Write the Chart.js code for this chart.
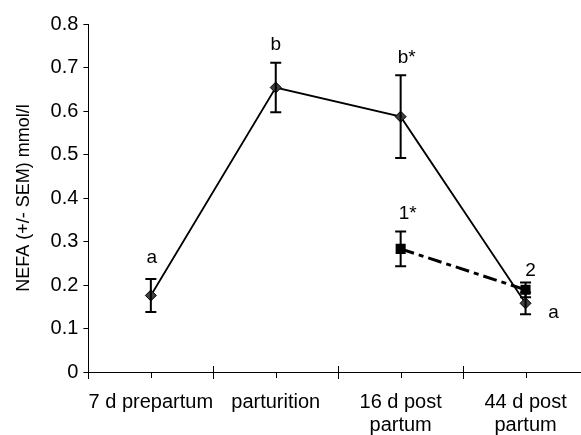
<!DOCTYPE html>
<html>
<head>
<meta charset="utf-8">
<script src="https://cdn.jsdelivr.net/npm/chart.js@4/dist/chart.umd.min.js"></script>
<style>
  html, body { margin: 0; padding: 0; background: #fff; overflow: hidden; }
  #wrap { width: 581px; height: 435px; overflow: hidden; }
</style>
</head>
<body>
<div id="wrap"><canvas id="myChart" width="596" height="449"></canvas></div>
<script>
// categories (sampling days)
const categories = [["7 d prepartum"], ["parturition"], ["16 d post", "partum"], ["44 d post", "partum"]];
// NEFA means and SEM, series 1 (diamonds, solid line)
const nefa1 = [0.176, 0.654, 0.587, 0.158];
const sem1 = [0.038, 0.057, 0.095, 0.025];
// series 2 (squares, dashed line)
const nefa2 = [null, null, 0.283, 0.189];
const sem2 = [null, null, 0.040, 0.017];
// significance letters
const noteText = ["a", "b", "b*", "1*", "2", "a"];
const noteCat = [0, 1, 2, 2, 3, 3];
const noteVal = [0.262, 0.752, 0.722, 0.364, 0.232, 0.136];
const noteDx = [1, 0, 6, 7, 5, 28];

const FONT = "'Liberation Sans', Arial, sans-serif";

// draws SEM whiskers for each dataset
const errorBars = {
  id: "errorBars",
  afterDatasetsDraw(chart) {
    const ctx = chart.ctx;
    const y = chart.scales.y;
    chart.data.datasets.forEach((ds, i) => {
      const meta = chart.getDatasetMeta(i);
      meta.data.forEach((pt, j) => {
        const v = ds.data[j];
        const e = ds.sem[j];
        if (v == null || e == null) return;
        const top = y.getPixelForValue(v + e);
        const bot = y.getPixelForValue(v - e);
        ctx.save();
        ctx.strokeStyle = "#000";
        ctx.lineWidth = 2;
        ctx.beginPath();
        ctx.moveTo(pt.x, top); ctx.lineTo(pt.x, bot);
        ctx.moveTo(pt.x - 5.5, top); ctx.lineTo(pt.x + 5.5, top);
        ctx.moveTo(pt.x - 5.5, bot); ctx.lineTo(pt.x + 5.5, bot);
        ctx.stroke();
        ctx.restore();
      });
    });
  },
  afterDraw(chart) {
    const ctx = chart.ctx;
    const x = chart.scales.x;
    const y = chart.scales.y;
    ctx.save();
    ctx.strokeStyle = "#000";
    ctx.lineWidth = 1;
    // small ticks under each category centre
    categories.forEach((c, i) => {
      const px = Math.round(x.getPixelForValue(i)) + 0.5;
      ctx.beginPath();
      ctx.moveTo(px, y.bottom); ctx.lineTo(px, y.bottom + 6);
      ctx.stroke();
    });
    // the boundary ticks cross the axis
    for (let i = 0; i <= categories.length; i++) {
      const px = Math.round(x.left + (x.right - x.left) * i / categories.length) + 0.5;
      ctx.beginPath();
      ctx.moveTo(px, y.bottom - 6); ctx.lineTo(px, y.bottom);
      ctx.stroke();
    }
    // letters
    ctx.fillStyle = "#000";
    ctx.font = "19px " + FONT;
    ctx.textAlign = "center";
    ctx.textBaseline = "middle";
    noteText.forEach((t, i) => {
      ctx.fillText(t, x.getPixelForValue(noteCat[i]) + noteDx[i], y.getPixelForValue(noteVal[i]));
    });
    ctx.restore();
  }
};

const data = {
  labels: categories,
  datasets: [
    {
      label: "series 1",
      data: nefa1,
      sem: sem1,
      borderColor: "#000",
      borderWidth: 1.8,
      pointStyle: "rectRot",
      pointRadius: 5.5,
      pointBackgroundColor: "#404040",
      pointBorderColor: "#000",
      pointBorderWidth: 1,
      tension: 0,
    },
    {
      label: "series 2",
      data: nefa2,
      sem: sem2,
      borderColor: "#000",
      borderWidth: 3,
      borderDash: [14, 5, 5, 5],
      pointStyle: "rect",
      pointRadius: 5,
      pointBackgroundColor: "#000",
      pointBorderColor: "#000",
      tension: 0,
    },
  ],
};

const config = {
  type: "line",
  data: data,
  options: {
    responsive: false,
    animation: false,
    layout: { padding: { top: 24, left: 4, right: 0, bottom: 0 } },
    plugins: {
      legend: { display: false },
      tooltip: { enabled: false },
    },
    scales: {
      x: {
        offset: true,
        grid: { offset: true, drawOnChartArea: false, tickLength: 7, color: "#000" },
        border: { color: "#000", width: 1 },
        ticks: { color: "#000", font: { family: FONT, size: 20, lineHeight: 1.15 }, padding: 12, maxRotation: 0, autoSkip: false },
      },
      y: {
        min: 0,
        max: 0.8,
        ticks: {
          stepSize: 0.1,
          color: "#000",
          font: { family: FONT, size: 20 },
          padding: 5,
          callback: (v) => (v === 0 ? "0" : v.toFixed(1)),
        },
        grid: { drawOnChartArea: false, tickLength: 5, color: "#000" },
        border: { color: "#000", width: 1 },
        title: {
          display: true,
          text: "NEFA (+/- SEM) mmol/l",
          color: "#000",
          font: { family: FONT, size: 18 },
          padding: { top: 9, bottom: 11 },
        },
      },
    },
  },
  plugins: [errorBars],
};

const myChart = new Chart(document.getElementById("myChart"), config);
</script>
</body>
</html>
